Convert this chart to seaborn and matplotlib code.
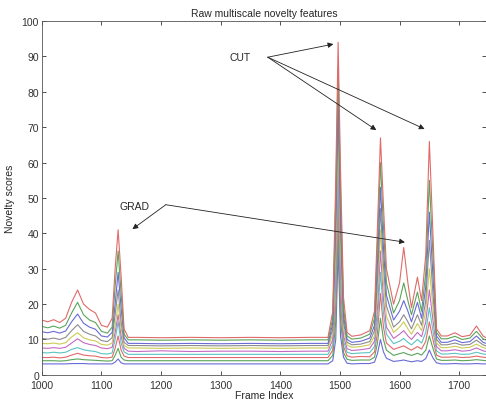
import matplotlib
matplotlib.use("Agg")
import matplotlib.pyplot as plt
import seaborn as sns
import pandas as pd

# frame positions (shared by all scales)
frames = [1000, 1010, 1020, 1030, 1040, 1050, 1060, 1070, 1080, 1090,
          1100, 1110, 1118, 1123, 1128, 1133, 1138, 1145, 1160, 1200,
          1250, 1300, 1350, 1400, 1450, 1480, 1488, 1493, 1497, 1501,
          1506, 1512, 1520, 1535, 1550, 1558, 1563, 1568, 1573, 1578,
          1590, 1600, 1607, 1614, 1620, 1630, 1637, 1644, 1650, 1656,
          1662, 1670, 1680, 1693, 1705, 1718, 1729, 1740, 1745]

# novelty per scale, smallest scale (bottom) to largest (top)
scale1 = [3.1, 3.1, 3.1, 3.1, 3.1, 3.2, 3.2, 3.2, 3.1, 3.1,
          3.1, 3.1, 3.1, 3.6, 4.5, 3.4, 3.1, 3.1, 3.1, 3.1,
          3.1, 3.1, 3.1, 3.1, 3.1, 3.1, 4.0, 10.0, 36.0, 11.0,
          5.0, 3.3, 3.1, 3.2, 3.2, 3.6, 6.0, 10.0, 6.5, 4.7,
          3.8, 4.0, 4.2, 3.9, 3.7, 4.0, 3.8, 4.6, 7.0, 4.8,
          3.4, 3.1, 3.1, 3.2, 3.1, 3.1, 3.2, 3.1, 3.1]
scale2 = [4.0, 4.0, 4.0, 3.9, 4.0, 4.3, 4.5, 4.3, 4.2, 4.1,
          4.0, 3.9, 4.0, 5.5, 7.5, 5.0, 4.2, 4.0, 4.0, 4.0,
          4.0, 4.0, 4.0, 4.0, 4.0, 4.0, 5.5, 15.0, 43.0, 16.0,
          6.3, 4.4, 4.1, 4.2, 4.2, 5.0, 9.0, 16.0, 10.0, 7.0,
          5.5, 6.0, 6.3, 5.8, 5.5, 6.1, 5.6, 7.0, 11.0, 7.5,
          4.5, 4.1, 4.1, 4.2, 4.0, 4.1, 4.3, 4.1, 4.0]
scale3 = [4.9, 4.9, 5.0, 4.8, 5.0, 5.6, 6.1, 5.6, 5.4, 5.3,
          4.9, 4.8, 5.0, 7.5, 11.0, 7.0, 5.3, 4.9, 4.9, 4.9,
          4.9, 4.9, 4.9, 4.9, 4.9, 4.9, 7.0, 20.0, 50.0, 21.0,
          8.0, 5.4, 5.0, 5.2, 5.1, 6.5, 12.0, 23.0, 13.5, 9.0,
          7.2, 7.8, 8.2, 7.5, 7.0, 8.0, 7.3, 9.5, 15.0, 10.0,
          5.6, 5.0, 5.0, 5.1, 4.9, 5.0, 5.3, 5.0, 4.9]
scale4 = [6.3, 6.2, 6.4, 6.2, 6.4, 7.2, 7.7, 7.1, 6.8, 6.6,
          6.0, 5.9, 6.2, 10.0, 15.0, 9.0, 6.5, 5.8, 5.8, 5.8,
          5.8, 5.8, 5.8, 5.8, 5.8, 5.8, 8.5, 25.0, 56.0, 26.0,
          9.5, 6.4, 6.0, 6.2, 6.3, 8.0, 15.5, 29.0, 17.5, 11.5,
          8.8, 9.5, 10.3, 9.2, 8.5, 10.0, 9.0, 12.0, 19.0, 12.5,
          6.8, 5.9, 5.9, 6.1, 5.8, 5.9, 6.4, 5.9, 5.8]
scale5 = [7.6, 7.5, 7.7, 7.5, 7.8, 9.0, 10.2, 9.1, 8.6, 8.3,
          7.6, 7.4, 7.8, 12.0, 17.0, 11.0, 7.5, 6.7, 6.6, 6.8,
          6.6, 6.7, 6.7, 6.6, 6.7, 6.7, 10.0, 30.0, 62.0, 31.0,
          11.0, 7.4, 6.9, 7.1, 7.5, 9.5, 19.0, 35.0, 21.5, 13.5,
          10.3, 11.5, 12.5, 11.0, 10.0, 12.0, 10.8, 15.0, 24.0, 15.5,
          8.0, 6.8, 6.8, 7.1, 6.7, 6.9, 7.6, 6.8, 6.6]
scale6 = [8.9, 8.8, 9.0, 8.7, 9.1, 10.7, 11.9, 10.5, 9.9, 9.6,
          8.6, 8.4, 9.0, 14.0, 20.0, 13.0, 8.3, 7.6, 7.6, 7.5,
          7.6, 7.5, 7.6, 7.5, 7.6, 7.6, 11.5, 35.0, 68.0, 36.0,
          13.0, 8.4, 7.8, 8.0, 8.5, 11.0, 23.0, 41.0, 26.0, 16.5,
          12.0, 13.5, 15.0, 13.0, 11.5, 14.5, 12.5, 18.0, 30.0, 19.0,
          9.0, 7.7, 7.7, 8.1, 7.6, 7.8, 8.7, 7.7, 7.5]
scale7 = [10.3, 10.1, 10.4, 10.0, 10.6, 12.5, 14.2, 12.3, 11.5, 11.0,
          9.7, 9.4, 10.5, 17.0, 24.0, 15.0, 9.2, 8.3, 8.3, 8.2,
          8.3, 8.2, 8.3, 8.2, 8.3, 8.3, 13.0, 40.0, 74.0, 41.0,
          15.0, 9.2, 8.5, 8.7, 9.4, 12.5, 27.0, 47.0, 31.0, 19.5,
          13.5, 15.0, 17.0, 15.0, 13.0, 17.0, 14.0, 21.0, 38.0, 23.0,
          10.0, 8.5, 8.5, 9.0, 8.4, 8.6, 9.8, 8.5, 8.2]
scale8 = [12.2, 11.9, 12.3, 11.8, 12.4, 15.0, 17.2, 14.6, 13.5, 12.9,
          11.0, 10.7, 12.0, 20.0, 29.0, 19.0, 10.5, 8.9, 8.9, 8.8,
          8.9, 8.8, 8.9, 8.8, 8.9, 8.9, 14.5, 45.0, 80.0, 46.0,
          17.0, 10.0, 9.2, 9.5, 10.4, 14.0, 32.0, 53.0, 36.0, 22.5,
          15.5, 18.0, 21.0, 18.0, 15.0, 20.5, 16.0, 25.0, 46.0, 28.0,
          11.0, 9.2, 9.2, 9.9, 9.1, 9.4, 11.0, 9.2, 8.9]
scale9 = [13.7, 13.3, 13.8, 13.2, 14.0, 17.5, 20.5, 17.0, 15.5, 14.8,
          12.3, 11.8, 13.5, 25.0, 35.0, 23.0, 11.5, 9.9, 9.9, 9.8,
          9.9, 9.8, 9.9, 9.8, 9.9, 9.9, 16.0, 50.0, 87.0, 52.0,
          19.0, 11.0, 10.1, 10.4, 11.5, 16.0, 37.0, 60.0, 42.0, 26.0,
          17.5, 21.0, 26.0, 21.0, 17.0, 23.4, 18.0, 29.0, 55.0, 34.0,
          12.0, 10.2, 10.2, 10.9, 10.0, 10.4, 12.3, 10.2, 9.8]
scale10 = [15.5, 15.0, 15.6, 14.8, 16.0, 20.5, 24.0, 20.0, 18.5, 17.5,
           14.0, 13.5, 16.0, 30.0, 41.0, 28.0, 13.0, 10.6, 10.6, 10.5,
           10.6, 10.5, 10.6, 10.5, 10.6, 10.6, 18.0, 55.0, 94.0, 58.0,
           22.0, 12.0, 10.9, 11.3, 12.5, 18.0, 42.0, 67.0, 48.0, 30.0,
           20.0, 26.0, 36.0, 26.0, 19.0, 27.6, 21.0, 34.0, 66.0, 40.0,
           13.0, 11.0, 11.0, 11.9, 10.8, 11.2, 13.8, 11.0, 10.5]

all_scales = [scale1, scale2, scale3, scale4, scale5,
              scale6, scale7, scale8, scale9, scale10]

# matlab-ish colour order, washed out like the original
colors = ["#6a6ad8", "#5aa55a", "#e06a6a", "#5ac4c4", "#c46ac4",
          "#cccc55", "#8c8c8c", "#6a6ad8", "#5aa55a", "#e06a6a"]

rows = []
for i, vals in enumerate(all_scales):
    for f, v in zip(frames, vals):
        rows.append({"frame": f, "score": v, "scale": i})
df = pd.DataFrame(rows)

sns.set_style("ticks")
plt.rcParams["font.family"] = ["Liberation Sans", "DejaVu Sans"]

fig = plt.figure(figsize=(4.86, 4.02), dpi=100)
ax = fig.add_axes([0.086, 0.065, 0.914, 0.880])

sns.lineplot(data=df, x="frame", y="score", hue="scale", palette=colors,
             legend=False, linewidth=0.8, ax=ax, estimator=None)

ax.set_xlim(1000, 1745)
ax.set_ylim(0, 100)
ax.set_xticks(range(1000, 1800, 100))
ax.set_yticks(range(0, 110, 10))
ax.tick_params(direction="in", top=True, right=True, labelsize=7.5,
               length=3, width=0.6, colors="#333333", pad=2)
ax.tick_params(axis="x", pad=4)
for s in ax.spines.values():
    s.set_linewidth(0.6)
    s.set_color("#555555")

ax.set_title("Raw multiscale novelty features", fontsize=7.5, pad=4)
ax.set_xlabel("Frame Index", fontsize=7.5)
ax.xaxis.set_label_coords(0.5, -0.042)
ax.set_ylabel("Novelty scores", fontsize=7.5, labelpad=5)

arrow = dict(arrowstyle="-|>", color="#222222", lw=0.6, mutation_scale=8,
             shrinkA=0, shrinkB=0)
ax.annotate("CUT", xy=(1332, 89.8), xytext=(1332, 89.8), fontsize=7.5,
            ha="center", va="center")
ax.annotate("", xy=(1489, 93.5), xytext=(1379, 89.8), arrowprops=arrow)
ax.annotate("", xy=(1561, 69.2), xytext=(1379, 89.8), arrowprops=arrow)
ax.annotate("", xy=(1642, 69.5), xytext=(1379, 89.8), arrowprops=arrow)
ax.annotate("GRAD", xy=(1156, 47.8), xytext=(1156, 47.8), fontsize=7.5,
            ha="center", va="center")
ax.annotate("", xy=(1152, 41.2), xytext=(1208, 48.1), arrowprops=arrow)
ax.annotate("", xy=(1609, 37.5), xytext=(1208, 48.1), arrowprops=arrow)

fig.savefig("out.png", dpi=100)
